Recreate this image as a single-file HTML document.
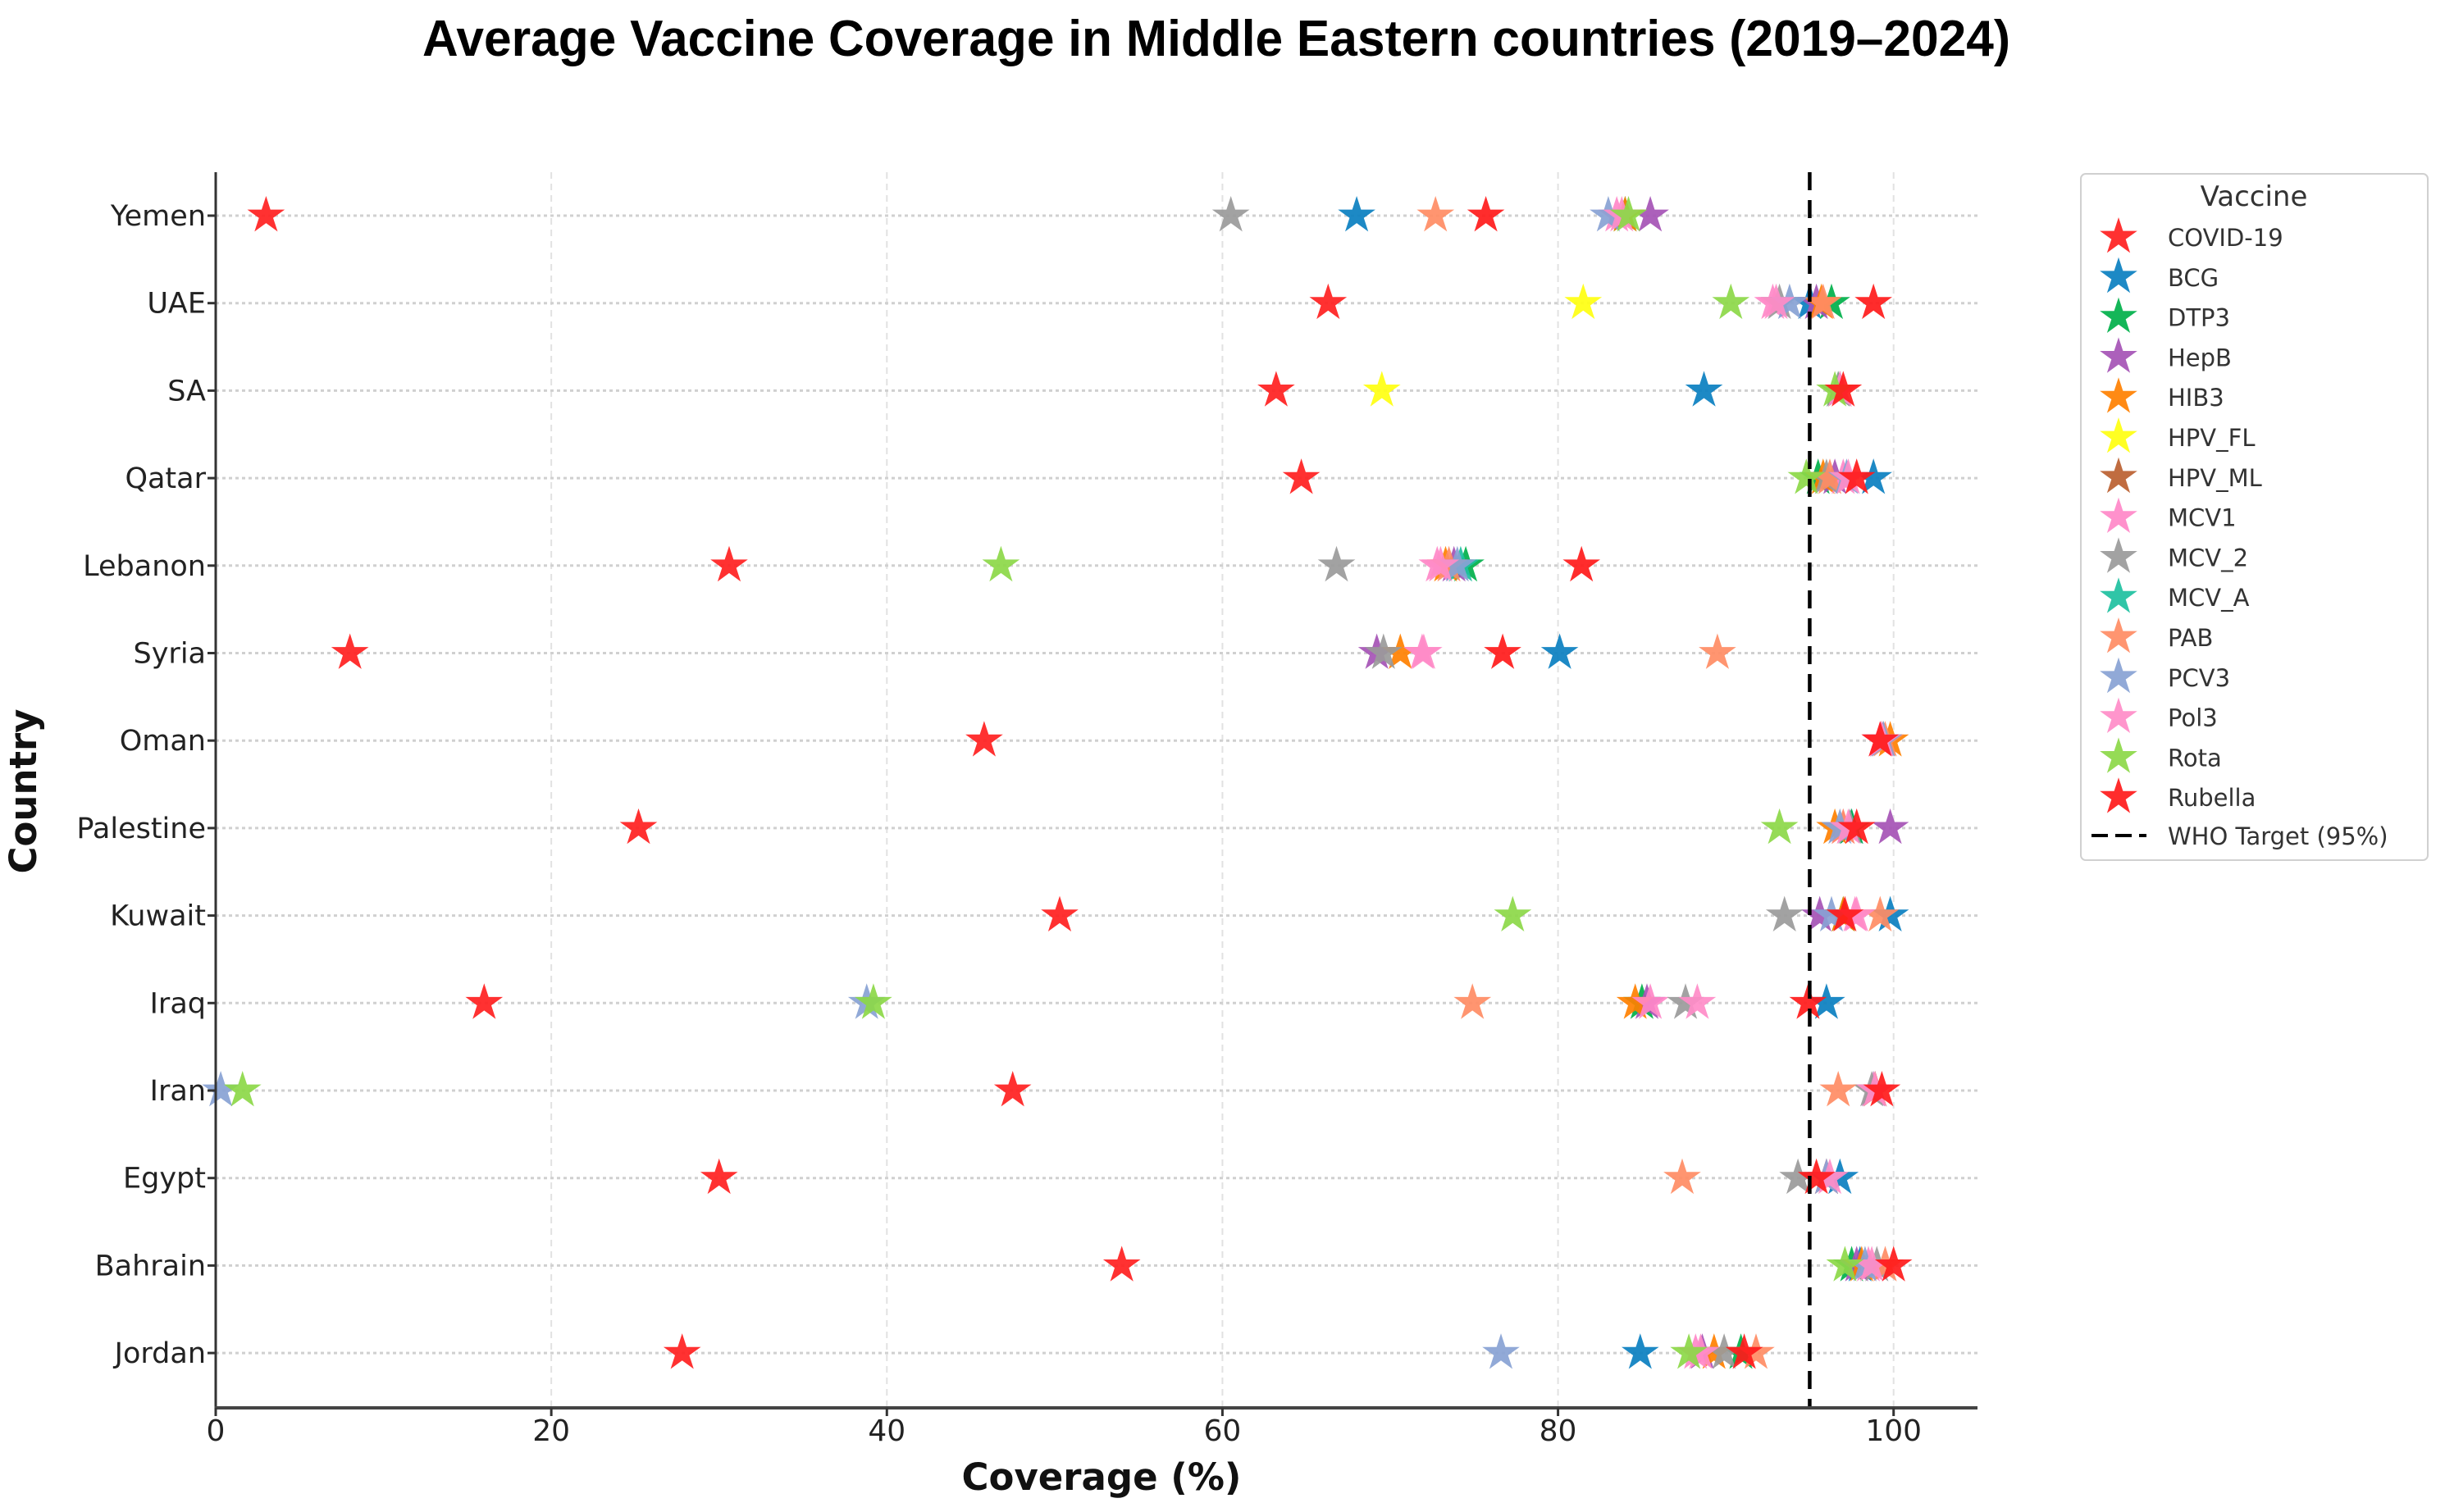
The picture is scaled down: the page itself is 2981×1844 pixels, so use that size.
<!DOCTYPE html>
<html><head><meta charset="utf-8"><style>
html,body{margin:0;padding:0;background:#fff;}
svg{display:block;}
text{font-family:"DejaVu Sans","Liberation Sans",sans-serif;}
</style></head><body>
<svg id="chart" width="2981" height="1844" viewBox="0 0 2981 1844" xmlns="http://www.w3.org/2000/svg">
<rect width="2981" height="1844" fill="#fff"/>
<text x="1483" y="68" text-anchor="middle" font-size="62" font-weight="bold" textLength="1936" lengthAdjust="spacingAndGlyphs" style="font-family:'Liberation Sans',sans-serif" fill="#000">Average Vaccine Coverage in Middle Eastern countries (2019–2024)</text>
<g id="grid"></g>
<g id="marks"></g>
<g id="axes"></g>
<g id="legend"></g>
</svg>
<script>
const countries = ["Yemen","UAE","SA","Qatar","Lebanon","Syria","Oman","Palestine","Kuwait","Iraq","Iran","Egypt","Bahrain","Jordan"];
const vaccines = ["COVID-19","BCG","DTP3","HepB","HIB3","HPV_FL","HPV_ML","MCV1","MCV_2","MCV_A","PAB","PCV3","Pol3","Rota","Rubella"];
const colors = ["#ff1f1f","#0a7fc0","#00b04a","#a552b5","#ff8000","#ffff10","#bb6030","#ff88c8","#9a9a9a","#1ec0a0","#ff8c64","#88a2d4","#ff8cc8","#8cd848","#ff1a1a"];
const xTicks = [0,20,40,60,80,100];
const whoTarget = 95;
// values per vaccine, index order = countries
const vCOVID  = [3,66.3,63.2,64.7,30.6,8,45.8,25.2,50.3,16,47.5,30,54,27.8];
const vBCG    = [68,95,88.7,98.8,null,80.1,99.4,97.5,99.8,96,98.8,96.8,98,84.9];
const vDTP3   = [84,96.3,96.7,95.5,74.5,null,99.3,97.5,97,85,98.9,96,97.5,90.9];
const vHepB   = [85.5,95.4,96.8,96.5,73.8,69.2,99.3,99.8,95.6,85.3,98.9,96,97.8,88.6];
const vHIB3   = [84,95.7,96.8,95.8,73.3,70.6,99.8,96.5,97,84.6,98.9,96,98.1,89.3];
const vHPVFL  = [null,81.5,69.5,null,null,null,null,null,null,null,null,null,null,null];
const vHPVML  = [null,null,null,null,null,null,null,null,null,null,null,null,null,null];
const vMCV1   = [83.5,92.8,96.8,97,72.8,71.9,99.2,97,97.7,85.5,98.8,96,98.5,88.2];
const vMCV2   = [60.5,93.2,96.7,96,66.8,69.6,99.4,97.4,93.5,87.6,98.7,94.3,99,89.9];
const vMCVA   = [null,null,null,null,74.2,null,null,null,null,null,null,null,null,null];
const vPAB    = [72.7,95.8,96.8,96.2,73.5,89.5,99.5,97,99.2,74.9,96.7,87.4,99.5,91.8];
const vPCV3   = [83,93.8,96.8,97.2,74,null,99.4,96.8,96.3,38.8,0.3,96,98.3,76.6];
const vPol3   = [83.8,93,96.8,97.3,73,72,99.3,97.3,97.8,88.3,98.9,96.2,98.7,88.5];
const vRota   = [84.2,90.3,96.5,94.8,46.8,null,null,93.2,77.3,39.2,1.6,null,97.1,87.8];
const vRubella= [75.7,98.8,97,97.8,81.4,76.7,99.2,97.8,97.1,94.9,99.3,95.4,100,91.1];
const series = [vCOVID,vBCG,vDTP3,vHepB,vHIB3,vHPVFL,vHPVML,vMCV1,vMCV2,vMCVA,vPAB,vPCV3,vPol3,vRota,vRubella];

const NS="http://www.w3.org/2000/svg";
const L=263,R=2411,T=210,B=1717,XMAX=105;
function xs(v){return L+(R-L)*v/XMAX;}
function ys(i){return 263+i*106.7;}
function mk(tag,attrs,parent){const e=document.createElementNS(NS,tag);for(const k in attrs)e.setAttribute(k,attrs[k]);parent.appendChild(e);return e;}
function starPts(cx,cy,r){let p=[];for(let k=0;k<10;k++){const a=-Math.PI/2+k*Math.PI/5;const rr=k%2?r*0.38:r;p.push((cx+rr*Math.cos(a)).toFixed(1)+","+(cy+rr*Math.sin(a)).toFixed(1));}return p.join(" ");}
const grid=document.getElementById('grid'),marks=document.getElementById('marks'),axes=document.getElementById('axes'),leg=document.getElementById('legend');
xTicks.forEach(t=>{
  const l=mk('line',{x1:xs(t),x2:xs(t),y1:T,y2:B,stroke:'#e2e2e2','stroke-width':2,'stroke-dasharray':'8,6'},grid);
  
  
});
countries.forEach((c,i)=>{
  const l=mk('line',{x1:L,x2:R,y1:ys(i),y2:ys(i),stroke:'#d0d0d0','stroke-width':3,'stroke-dasharray':'4,4'},grid);
  
  
});
series.forEach((s,j)=>{
  s.forEach((v,i)=>{
    if(v===null)return;
    const p=mk('polygon',{points:starPts(xs(v),ys(i),24),fill:colors[j],'fill-opacity':0.92},marks);
    
    
  });
});
const who=mk('line',{x1:xs(whoTarget),x2:xs(whoTarget),y1:T,y2:B,stroke:'#000','stroke-width':4.5,'stroke-dasharray':'22,12'},axes);


const ly=mk('line',{x1:L,x2:L,y1:T,y2:B,stroke:'#333','stroke-width':3},axes);


const lx=mk('line',{x1:L-1.5,x2:R,y1:B,y2:B,stroke:'#444','stroke-width':4},axes);


xTicks.forEach(t=>{
  const tk=mk('line',{x1:xs(t),x2:xs(t),y1:B,y2:B+10,stroke:'#333','stroke-width':3},axes);
  
  
  const tx=mk('text',{x:xs(t),y:B+40,'text-anchor':'middle','font-size':36,fill:'#222'},axes);
  tx.textContent=t;
  
  
});
countries.forEach((c,i)=>{
  const tk=mk('line',{x1:L-10,x2:L,y1:ys(i),y2:ys(i),stroke:'#333','stroke-width':3},axes);
  
  
  const tx=mk('text',{x:L-12,y:ys(i)+12,'text-anchor':'end','font-size':35,fill:'#222'},axes);
  tx.textContent=c;
  
  
});
const xt=mk('text',{x:1343,y:1817,'text-anchor':'middle','font-size':45,'font-weight':'bold',fill:'#111'},axes);
xt.textContent='Coverage (%)';


const yt=mk('text',{x:0,y:0,'text-anchor':'middle','font-size':45,'font-weight':'bold',fill:'#111',transform:'translate(44,965) rotate(-90)'},axes);
yt.textContent='Country';


// legend
const box=mk('rect',{x:2537,y:212,width:423,height:837,rx:6,fill:'#fff',stroke:'#d0d0d0','stroke-width':2},leg);


const lt=mk('text',{x:2748,y:251,'text-anchor':'middle','font-size':34,fill:'#333'},leg);
lt.textContent='Vaccine';


vaccines.forEach((v,j)=>{
  const y=289+j*48.8;
  const g=mk('g',{},leg);
  
  
  mk('polygon',{points:starPts(2583,y,24),fill:colors[j],'fill-opacity':0.92},g);
  const t=mk('text',{x:2643,y:y+11,'font-size':29,fill:'#333'},g);
  t.textContent=v;
});
const wg=mk('g',{},leg);


mk('line',{x1:2550,x2:2617,y1:1019,y2:1019,stroke:'#000','stroke-width':4,'stroke-dasharray':'20,9'},wg);
const wt=mk('text',{x:2643,y:1030,'font-size':29,fill:'#333'},wg);
wt.textContent='WHO Target (95%)';
</script>
</body></html>
